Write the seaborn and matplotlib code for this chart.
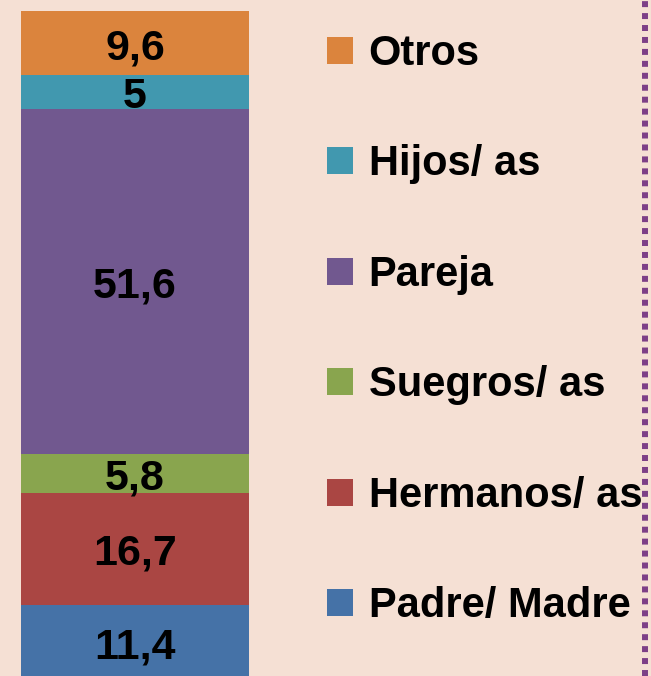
import matplotlib
matplotlib.use("Agg")
import matplotlib.pyplot as plt
from matplotlib.lines import Line2D
import seaborn as sns

categories = ["Padre/ Madre", "Hermanos/ as", "Suegros/ as", "Pareja", "Hijos/ as", "Otros"]
values = [11.4, 16.7, 5.8, 51.6, 5.0, 9.6]
colors = ["#4572A7", "#AA4643", "#89A54E", "#71588F", "#4198AF", "#DB843D"]

bg = "#F5E0D4"
sns.set_theme(style="white")
plt.rcParams["font.family"] = ["Liberation Sans", "DejaVu Sans"]
plt.rcParams["text.color"] = "black"

W, H = 651, 676
fig = plt.figure(figsize=(W / 100, H / 100), dpi=100, facecolor=bg)
total = sum(values)
top_px, zero_px = 11, 681
ax = fig.add_axes([21 / W, 1 - zero_px / H, 228 / W, (zero_px - top_px) / H])
ax.set_facecolor(bg)

bottom = 0.0
handles = []
for name, v, c in zip(categories, values, colors):
    sns.barplot(x=[0], y=[v], bottom=bottom, color=c, width=1.0, ax=ax,
                linewidth=0, saturation=1, label=name)
    cont = ax.containers[-1]
    lab = f"{v:g}".replace(".", ",")
    anns = ax.bar_label(cont, labels=[lab], label_type="center", fontsize=31,
                        fontweight="bold", color="black")
    for a in anns:
        a.xyann = (0, -3.6)
    handles.append(cont.patches[0])
    bottom += v

ax.set_xlim(-0.5, 0.5)
ax.set_ylim(0, total)
ax.axis("off")
if ax.get_legend():
    ax.get_legend().remove()

leg = fig.legend(handles[::-1], categories[::-1], loc="upper left",
                 bbox_to_anchor=(327 / W, 1 - 34 / H), frameon=False,
                 prop={"family": "Liberation Sans", "weight": "bold", "size": 30},
                 handlelength=0.62, handleheight=0.62, handletextpad=0.38,
                 labelspacing=1.69, borderaxespad=0, borderpad=0,
                 labelcolor="black")

x_line = 645 / W
fig.add_artist(Line2D([x_line, x_line], [0, 1], transform=fig.transFigure,
                      color="#7D3F87", linewidth=4.3, linestyle=(0, (1, 1.0)),
                      dash_capstyle="butt"))

fig.savefig("out.png", dpi=100, facecolor=bg)
